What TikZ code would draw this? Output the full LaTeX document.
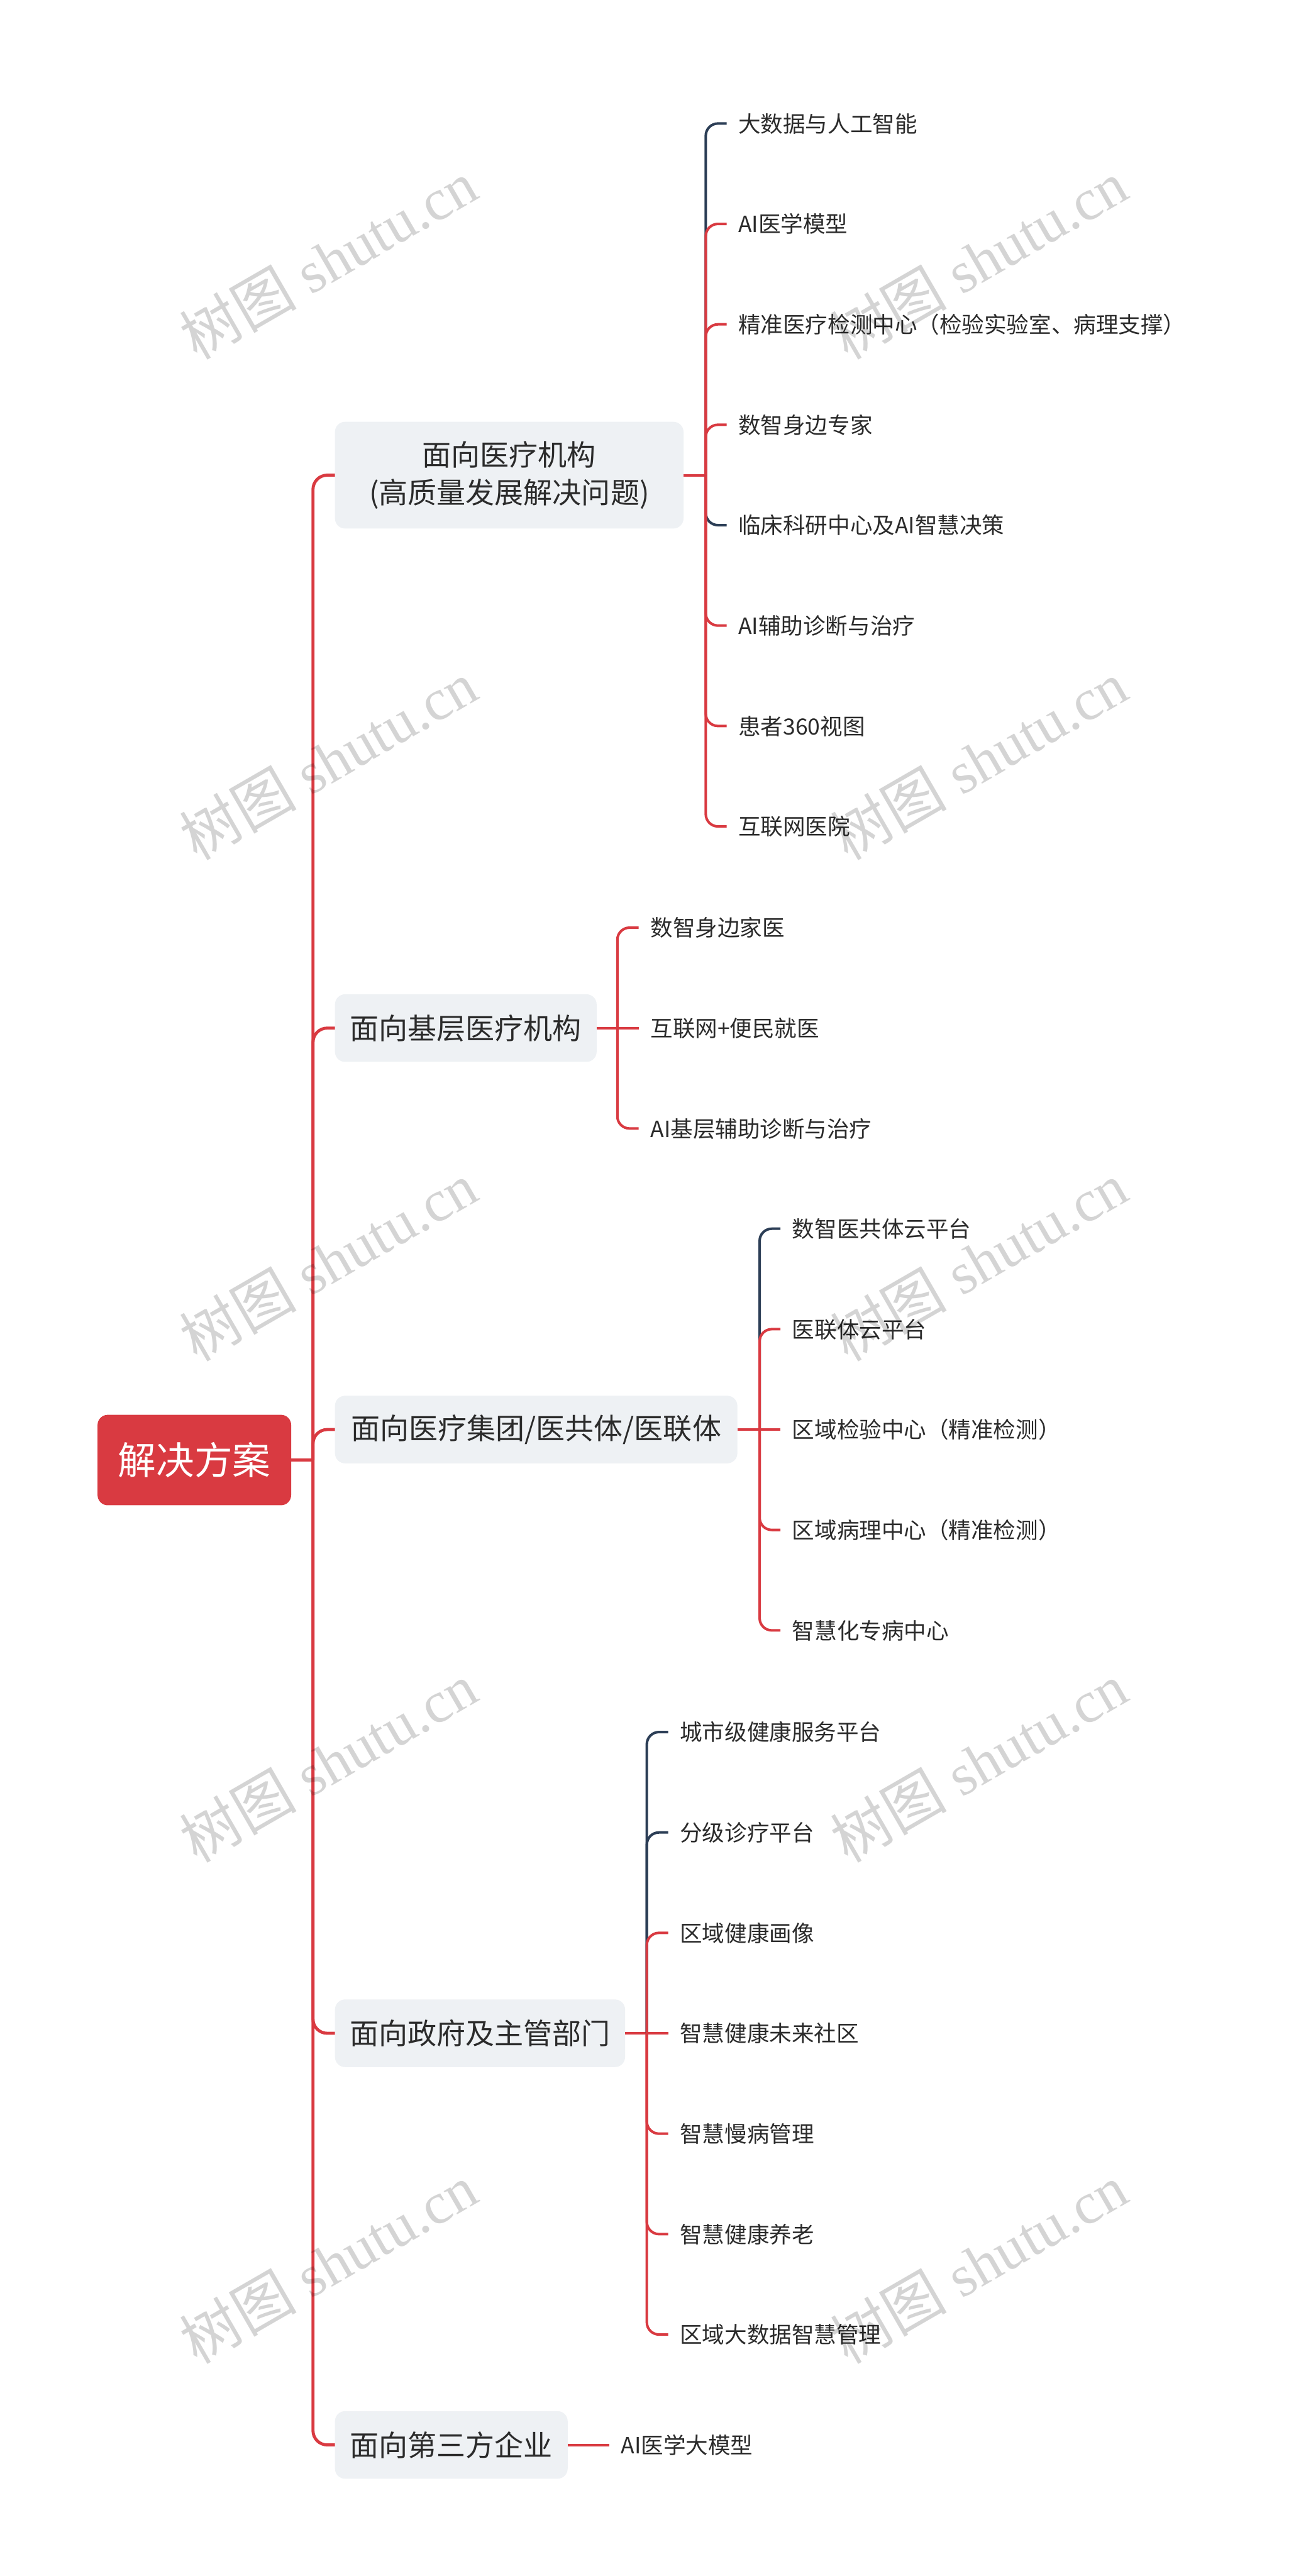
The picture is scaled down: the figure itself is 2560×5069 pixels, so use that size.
\documentclass[tikz,border=0pt]{standalone}
\usepackage{fontspec}
\setmainfont{Noto Sans CJK SC}
\newfontfamily\wmfont{Liberation Serif}
\newfontfamily\wmcjk{Noto Sans CJK SC}
\definecolor{linered}{HTML}{D93A41}
\definecolor{navyline}{HTML}{2C3E56}
\definecolor{boxgray}{HTML}{EEF1F4}
\definecolor{txt}{HTML}{2B2B2B}
\tikzset{
  rootbox/.style={fill=linered, rounded corners=20pt, text=white,
    font=\fontsize{75}{90}\selectfont, minimum width=381pt, minimum height=178pt,
    inner sep=0pt, text height=66pt, text depth=9pt},
  lvone/.style={fill=boxgray, rounded corners=20pt, text=txt,
    font=\fontsize{57}{75}\selectfont, minimum height=133pt, inner xsep=29pt,
    inner ysep=0pt, anchor=west, align=center},
  leafnode/.style={text=txt, font=\fontsize{44}{52}\selectfont, anchor=west,
    inner xsep=23pt, inner ysep=0pt, text height=39pt, text depth=5pt},
  mainconn/.style={line width=6pt, draw=linered, rounded corners=28pt},
  redconn/.style={line width=5pt, draw=linered, rounded corners=24pt},
  navyconn/.style={line width=5pt, draw=navyline, rounded corners=24pt},
  wmark/.style={rotate=30, text=black, text opacity=0.17,
    font=\wmfont\fontsize{115}{120}\selectfont}
}
\begin{document}
\begin{tikzpicture}[x=1pt, y=-1pt]
\useasboundingbox[fill=white] (0,0) rectangle (2560,5069);

% root
\node[rootbox] (root) at (382.5,2873) {解决方案};

% level one
\node[lvone, minimum width=686pt, minimum height=210pt] (b1) at (659,935) {面向医疗机构\\(高质量发展解决问题)};
\node[lvone, minimum width=515pt] (b2) at (659,2023) {面向基层医疗机构};
\node[lvone, minimum width=792pt] (b3) at (659,2813) {面向医疗集团/医共体/医联体};
\node[lvone, minimum width=570pt] (b4) at (659,4001) {面向政府及主管部门};
\node[lvone, minimum width=458pt] (b5) at (659,4811) {面向第三方企业};

% junctions
\coordinate (j0) at (616,2873);
\coordinate (j1) at (1389,935);
\coordinate (j2) at (1215,2023);
\coordinate (j3) at (1495,2813);
\coordinate (j4) at (1273,4001);

% group 1 leaves
\node[leafnode] (a1) at (1430,243) {大数据与人工智能};
\node[leafnode] (a2) at (1430,440.6) {AI医学模型};
\node[leafnode] (a3) at (1430,638.2) {精准医疗检测中心（检验实验室、病理支撑）};
\node[leafnode] (a4) at (1430,835.8) {数智身边专家};
\node[leafnode] (a5) at (1430,1033.4) {临床科研中心及AI智慧决策};
\node[leafnode] (a6) at (1430,1231) {AI辅助诊断与治疗};
\node[leafnode] (a7) at (1430,1428.6) {患者360视图};
\node[leafnode] (a8) at (1430,1626.2) {互联网医院};

% group 2 leaves
\node[leafnode] (c1) at (1257,1825.4) {数智身边家医};
\node[leafnode] (c2) at (1257,2023) {互联网+便民就医};
\node[leafnode] (c3) at (1257,2220.6) {AI基层辅助诊断与治疗};

% group 3 leaves
\node[leafnode] (d1) at (1536,2417.8) {数智医共体云平台};
\node[leafnode] (d2) at (1536,2615.4) {医联体云平台};
\node[leafnode] (d3) at (1536,2813) {区域检验中心（精准检测）};
\node[leafnode] (d4) at (1536,3010.6) {区域病理中心（精准检测）};
\node[leafnode] (d5) at (1536,3208.2) {智慧化专病中心};

% group 4 leaves
\node[leafnode] (e1) at (1315,3408.2) {城市级健康服务平台};
\node[leafnode] (e2) at (1315,3605.8) {分级诊疗平台};
\node[leafnode] (e3) at (1315,3803.4) {区域健康画像};
\node[leafnode] (e4) at (1315,4001) {智慧健康未来社区};
\node[leafnode] (e5) at (1315,4198.6) {智慧慢病管理};
\node[leafnode] (e6) at (1315,4396.2) {智慧健康养老};
\node[leafnode] (e7) at (1315,4593.8) {区域大数据智慧管理};

% group 5 leaf
\node[leafnode] (f1) at (1199,4811) {AI医学大模型};

% main connectors
\draw[mainconn] (root.east) -- (j0);
\draw[mainconn] (j0) |- (b1.west);
\draw[mainconn] (j0) |- (b2.west);
\draw[mainconn] (j0) |- (b3.west);
\draw[mainconn] (j0) |- (b4.west);
\draw[mainconn] (j0) |- (b5.west);

% group 1 connectors
\draw[redconn] (b1.east) -- (j1);
\draw[navyconn] (j1) |- (a1.west);
\draw[redconn] (j1) |- (a2.west);
\draw[redconn] (j1) |- (a3.west);
\draw[redconn] (j1) |- (a4.west);
\draw[navyconn] (j1) |- (a5.west);
\draw[redconn] (j1) |- (a6.west);
\draw[redconn] (j1) |- (a7.west);
\draw[redconn] (j1) |- (a8.west);

% group 2 connectors
\draw[redconn] (b2.east) -- (j2);
\draw[redconn] (j2) |- (c1.west);
\draw[redconn] (j2) -- (c2.west);
\draw[redconn] (j2) |- (c3.west);

% group 3 connectors
\draw[redconn] (b3.east) -- (j3);
\draw[navyconn] (j3) |- (d1.west);
\draw[redconn] (j3) |- (d2.west);
\draw[redconn] (j3) -- (d3.west);
\draw[redconn] (j3) |- (d4.west);
\draw[redconn] (j3) |- (d5.west);

% group 4 connectors
\draw[redconn] (b4.east) -- (j4);
\draw[navyconn] (j4) |- (e1.west);
\draw[navyconn] (j4) |- (e2.west);
\draw[redconn] (j4) |- (e3.west);
\draw[redconn] (j4) -- (e4.west);
\draw[redconn] (j4) |- (e5.west);
\draw[redconn] (j4) |- (e6.west);
\draw[redconn] (j4) |- (e7.west);

% group 5 connector
\draw[redconn] (b5.east) -- (f1.west);

% watermarks
\foreach \wy [count=\i] in {511,1496,2482,3468,4454}{
  \node[wmark] (wl\i) at (646,\wy) {{\wmcjk 树图} shutu.cn};
  \node[wmark] (wr\i) at (1926,\wy) {{\wmcjk 树图} shutu.cn};
}
\end{tikzpicture}
\end{document}
